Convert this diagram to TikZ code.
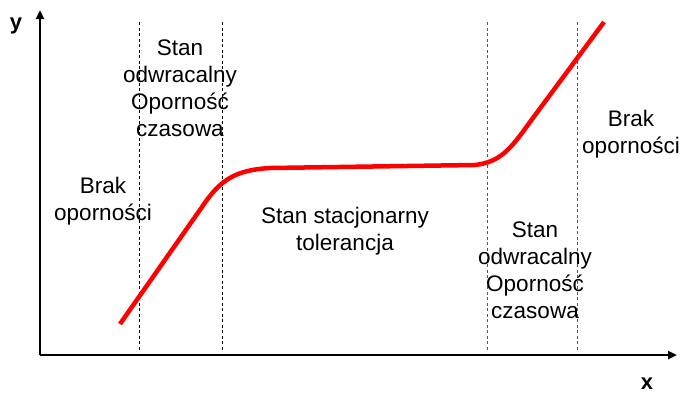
\documentclass[tikz,border=0pt]{standalone}
\usepackage{fontspec}
\setmainfont{Liberation Sans}
\usetikzlibrary{arrows.meta}
\begin{document}
\begin{tikzpicture}[x=1pt,y=-1pt,
  axis/.style={line width=2.4pt,-{Triangle[length=9pt,width=8pt]}},
  divider/.style={line width=0.8pt,dash pattern=on 3pt off 2.5pt},
  lbl/.style={font=\fontsize{22.5}{27}\selectfont,align=center,inner sep=0pt},
  axlbl/.style={font=\fontsize{22}{24}\selectfont\bfseries,inner sep=0pt},
  curve/.style={red,line width=4.5pt,line join=round}]
\useasboundingbox (0,0) rectangle (687,394);
% axes
\coordinate (O) at (40,355);
\coordinate (Ytip) at (40,10);
\coordinate (Xtip) at (677,355);
\draw[axis] (O) -- (Ytip);
\draw[axis] (O) -- (Xtip);
\node[axlbl] (ylab) at (16,26) {y};
\node[axlbl] (xlab) at (647,384) {x};
% dividers
\coordinate (d1t) at (139,22); \coordinate (d1b) at (139,351);
\coordinate (d2t) at (222,22); \coordinate (d2b) at (222,351);
\coordinate (d3t) at (487,22); \coordinate (d3b) at (487,351);
\coordinate (d4t) at (577,22); \coordinate (d4b) at (577,351);
\draw[divider] (d1t) -- (d1b);
\draw[divider] (d2t) -- (d2b);
\draw[divider,black!65] (d3t) -- (d3b);
\draw[divider,black!65] (d4t) -- (d4b);
% curve
\draw[curve] (120,324) -- (202,207) .. controls (220,180) and (235,170) .. (270,168)
  -- (475,165) .. controls (500,162) and (510,150) .. (530,122) -- (604,22);
% labels
\node[lbl] (t1) at (180,88) {Stan\\odwracalny\\Oporność\\czasowa};
\node[lbl] (t2) at (103,201) {Brak\\oporności};
\node[lbl] (t3) at (345,231) {Stan stacjonarny\\tolerancja};
\node[lbl] (t4) at (535,270) {Stan\\odwracalny\\Oporność\\czasowa};
\node[lbl] (t5) at (631,134) {Brak\\oporności};
\end{tikzpicture}
\end{document}
